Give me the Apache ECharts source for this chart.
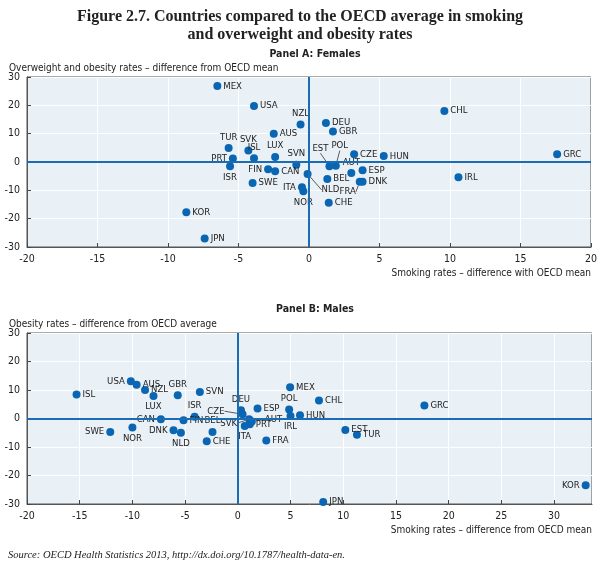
<!DOCTYPE html>
<html><head><meta charset="utf-8">
<script src="https://cdn.jsdelivr.net/npm/echarts@6/dist/echarts.min.js"></script>
<style>html,body{margin:0;padding:0;background:#fff}#c{width:600px;height:569px}</style>
</head><body><div id="c"></div>
<script>
// Panel A: Females
const codesA = ['MEX','USA','NZL','DEU','GBR','AUS','TUR','SVK','ISL','LUX','PRT','ISR','SVN','FIN','CAN','SWE','ITA','NOR','NLD','EST','POL','AUT','CZE','HUN','ESP','DNK','FRA','BEL','CHE','KOR','JPN','CHL','GRC','IRL'];
const smokingA = [-6.5,-3.9,-0.6,1.2,1.7,-2.5,-5.7,-4.3,-3.9,-2.4,-5.4,-5.6,-0.9,-2.9,-2.4,-4.0,-0.5,-0.4,-0.1,1.45,1.9,3.0,3.2,5.3,3.8,3.8,3.6,1.3,1.4,-8.7,-7.4,9.6,17.6,10.6];
const overweightA = [26.8,19.8,13.2,13.8,10.8,10.0,4.9,4.1,1.3,1.8,1.2,-1.5,-0.95,-2.6,-3.3,-7.4,-8.9,-10.3,-4.2,-1.5,-1.3,-3.9,2.7,2.1,-2.9,-7.0,-7.0,-6.0,-14.4,-17.7,-27.0,18.0,2.7,-5.4];

// Panel B: Males
const codesB = ['ISL','USA','AUS','NZL','LUX','GBR','SVN','ISR','CAN','FIN','SWE','NOR','DNK','NLD','CHE','BEL','DEU','CZE','SVK','AUT','PRT','ITA','ESP','MEX','POL','IRL','HUN','CHL','EST','TUR','FRA','JPN','GRC','KOR'];
const smokingB = [-15.3,-10.15,-9.6,-8.8,-8.0,-5.7,-3.6,-4.1,-7.3,-5.15,-12.1,-10.0,-6.1,-5.4,-2.95,-2.4,0.3,0.45,1.07,1.33,1.14,0.66,1.87,4.96,4.87,5.0,5.9,7.7,10.2,11.3,2.7,8.1,17.7,33.0];
const obesityB = [8.4,13.1,11.8,10.0,7.9,8.2,9.3,0.6,-0.25,-0.6,-4.7,-3.2,-4.1,-5.0,-8.0,-4.7,2.9,1.5,-0.25,-1.05,-2.0,-2.6,3.5,11.0,3.2,0.9,1.1,6.3,-4.0,-5.7,-7.7,-29.3,4.6,-23.4];

// Label placement (position, offset x, offset y, leader line)
const labelPosA = {
  NZL:['top',-4,2], TUR:['top',-3,1], SVK:['top',0,1], ISL:['top',9,1], LUX:['top',7,1],
  PRT:['left',-3,-2], ISR:['bottom',-8,0], SVN:['top',3,1], FIN:['left',0,0], CAN:['right',0,2],
  ITA:['left',-1,-2], NOR:['bottom',-7,0], NLD:['right',8,16,true], EST:['top',-9,-7,true],
  POL:['top',4,-9,true], AUT:['top',1,2], FRA:['bottom',-12,-1,true], DEU:['right',0,-1]
};
const labelPosB = {
  USA:['left',4,-6], AUS:['right',0,-6], NZL:['right',0,-1], GBR:['top',-3,4], LUX:['bottom',-1,0],
  ISR:['top',-1,2], CAN:['left',0,0], FIN:['right',-3,6], SWE:['left',0,5], NOR:['bottom',6,0],
  DNK:['left',0,2], NLD:['bottom',9,-2], CHE:['right',0,1], BEL:['top',-1,2], SVK:['left',-6,4,true],
  DEU:['top',4,1], CZE:['left',-12,-3,true], AUT:['right',7,-2,true], PRT:['right',-3,5],
  ITA:['bottom',-6,-2], POL:['top',2,1], IRL:['bottom',-1,-1], EST:['right',0,-5], TUR:['right',1,3],
  JPN:['right',-4,-8], GRC:['right',0,2], KOR:['left',0,0]
};

const NARROW = "'Liberation Sans Narrow','DejaVu Sans Condensed','Arial Narrow',sans-serif";
const SERIF = "'Liberation Serif','DejaVu Serif',serif";
const DOT = '#0a66b2';

function buildData(codes, xs, ys, spec) {
  return codes.map((c, i) => {
    const s = spec[c] || ['right',0,0];
    return {
      name: c,
      value: [xs[i], ys[i]],
      label: { position: s[0], offset: s[3] ? [0,0] : [s[1], s[2]] },
      labelLine: { show: !!s[3] }
    };
  });
}
function layoutFn(codes, spec) {
  return function (p) {
    const s = spec[codes[p.dataIndex]];
    if (s && s[3]) return { dx: s[1], dy: s[2] };
    return {};
  };
}
function xAxisCfg(idx, min, max, name, hideMax) {
  return {
    type: 'value', gridIndex: idx, min: min, max: max, interval: 5,
    axisLine: { show: true, onZero: false, lineStyle: { color: '#555', width: 1 } },
    axisTick: { show: true, inside: true, length: 4, lineStyle: { color: '#444' } },
    splitLine: { show: true, lineStyle: { color: '#ffffff', width: 1 } },
    axisLabel: { fontSize: 10.5, color: '#222', margin: 7, fontFamily: NARROW, showMaxLabel: !hideMax },
    name: name, nameLocation: 'end', nameGap: 0,
    nameTextStyle: { align: 'right', verticalAlign: 'top', padding: [21, 0, 0, 0], fontSize: 10, color: '#222', fontFamily: NARROW }
  };
}
function yAxisCfg(idx) {
  return {
    type: 'value', gridIndex: idx, min: -30, max: 30, interval: 10,
    axisLine: { show: true, onZero: false, lineStyle: { color: '#555', width: 1 } },
    axisTick: { show: true, inside: true, length: 4, lineStyle: { color: '#444' } },
    splitLine: { show: true, lineStyle: { color: '#ffffff', width: 1 } },
    axisLabel: { fontSize: 10.5, color: '#222', margin: 7, fontFamily: NARROW }
  };
}
function series(idx, codes, xs, ys, spec) {
  return {
    type: 'scatter', xAxisIndex: idx, yAxisIndex: idx,
    symbolSize: 8, itemStyle: { color: DOT, opacity: 1 },
    data: buildData(codes, xs, ys, spec),
    label: { show: true, formatter: '{b}', distance: 2, fontSize: 9.5, color: '#222', fontFamily: NARROW },
    labelLine: { show: false, lineStyle: { color: '#333', width: 0.8 } },
    labelLayout: layoutFn(codes, spec),
    markLine: {
      silent: true, symbol: 'none', animation: false,
      label: { show: false },
      lineStyle: { color: '#1a6cb4', width: 2, type: 'solid' },
      data: [{ xAxis: 0 }, { yAxis: 0 }]
    },
    z: 3
  };
}

const chart = echarts.init(document.getElementById('c'), null, { renderer: 'canvas' });
chart.setOption({
  animation: false,
  backgroundColor: '#fff',
  title: [
    { text: '{a|Figure 2.7. }{b|Countries compared to the OECD average in smoking}\n{b|and overweight and obesity rates}',
      left: 'center', top: 3,
      textStyle: { rich: {
        a: { fontFamily: SERIF, fontSize: 16, color: '#222', lineHeight: 18 },
        b: { fontFamily: SERIF, fontSize: 16, fontWeight: 'bold', color: '#222', lineHeight: 18 } } } },
    { text: 'Panel A: Females', left: 310, top: 44, textAlign: 'center',
      textStyle: { fontFamily: NARROW, fontSize: 10.5, fontWeight: 'bold', color: '#222' } },
    { text: 'Overweight and obesity rates – difference from OECD mean', left: 4, top: 58,
      textStyle: { fontFamily: NARROW, fontSize: 10, fontWeight: 'normal', color: '#222' } },
    { text: 'Panel B: Males', left: 310, top: 299, textAlign: 'center',
      textStyle: { fontFamily: NARROW, fontSize: 10.5, fontWeight: 'bold', color: '#222' } },
    { text: 'Obesity rates – difference from OECD average', left: 4, top: 314,
      textStyle: { fontFamily: NARROW, fontSize: 10, fontWeight: 'normal', color: '#222' } },
    { text: 'Source: OECD Health Statistics 2013, http://dx.doi.org/10.1787/health-data-en.', left: 3, top: 545,
      textStyle: { fontFamily: SERIF, fontSize: 10.5, fontStyle: 'italic', fontWeight: 'normal', color: '#222' } }
  ],
  grid: [
    { left: 27, right: 8, top: 77, height: 170, show: true, backgroundColor: '#e9f1f7', borderColor: '#555', borderWidth: 1 },
    { left: 27, right: 8, top: 333, height: 171, show: true, backgroundColor: '#e9f1f7', borderColor: '#555', borderWidth: 1 }
  ],
  xAxis: [
    xAxisCfg(0, -20, 20, 'Smoking rates – difference with OECD mean', false),
    xAxisCfg(1, -20, 33.6, 'Smoking rates – difference from OECD mean', true)
  ],
  yAxis: [yAxisCfg(0), yAxisCfg(1)],
  series: [
    series(0, codesA, smokingA, overweightA, labelPosA),
    series(1, codesB, smokingB, obesityB, labelPosB)
  ]
});
</script>
</body></html>
